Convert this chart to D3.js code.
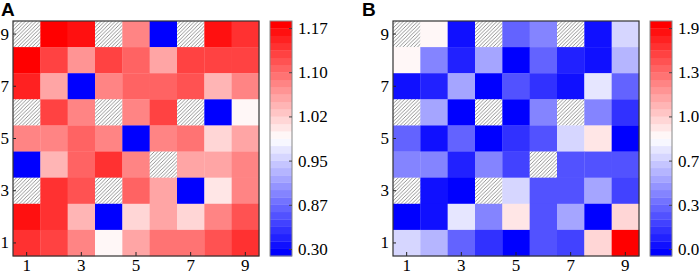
<!DOCTYPE html>
<html lang="en">
<head>
<meta charset="utf-8">
<title>Heatmaps A and B</title>
<script src="https://cdn.jsdelivr.net/npm/d3@7"></script>
<style>
  body { margin: 0; background: #fff; }
  svg { display: block; }
</style>
</head>
<body>
<script>
// grid labels (rows listed top to bottom: 9 .. 1)
var cols = [1, 2, 3, 4, 5, 6, 7, 8, 9];
var rows = [9, 8, 7, 6, 5, 4, 3, 2, 1];
var axisTicks = [1, 3, 5, 7, 9];

// colorbar tick labels
var ticksA = [0.30, 0.87, 0.95, 1.02, 1.10, 1.17];
var ticksB = [0.0, 0.3, 0.7, 1.0, 1.3, 1.9];

// null = hatched cell
var valuesA = [
  [null, 1.18, 1.16, null, 1.084, 0.30, null, 1.167, 1.144],
  [1.18, 1.13, 1.067, 1.13, 1.10, 1.051, 1.13, 1.13, 1.13],
  [1.151, 1.059, 0.30, 1.084, 1.108, 1.108, 1.115, 1.034, 1.075],
  [null, 1.13, 1.075, null, 1.084, 1.13, null, 0.30, 0.992],
  [1.075, 1.084, 1.10, 1.075, 0.30, 1.084, 1.092, 1.010, 1.051],
  [0.30, 1.042, 1.108, 1.137, 1.084, null, 1.051, 1.051, 1.084],
  [null, 1.137, 1.122, null, 1.10, 1.051, 0.30, 1.006, 1.084],
  [1.167, 1.137, 1.034, 0.30, 1.010, 1.051, 1.010, 1.075, 1.115],
  [1.144, 1.13, 1.075, 0.992, 1.051, 1.092, 1.092, 1.115, 1.137]
];

var valuesB = [
  [null, 0.88, 0.01, null, 0.265, 0.378, null, 0.01, 0.709],
  [0.895, 0.378, 0.077, 0.503, 0.0, 0.296, 0.077, 0.046, 0.628],
  [0.01, 0.077, 0.503, 0.0, 0.233, 0.14, 0.01, 0.755, 0.265],
  [null, 0.503, 0.0, null, 0.0, 0.42, null, 0.42, 0.14],
  [0.265, 0.01, 0.296, 0.0, 0.108, 0.233, 0.709, 0.943, 0.0],
  [0.42, 0.378, 0.077, 0.42, 0.171, null, 0.202, 0.202, 0.202],
  [null, 0.01, 0.0, null, 0.709, 0.202, 0.233, 0.544, 0.171],
  [0.0, 0.046, 0.771, 0.378, 0.943, 0.202, 0.544, 0.0, 0.99],
  [0.709, 0.628, 0.265, 0.14, 0.0, 0.202, 0.171, 0.973, 1.95]
];

var w = 699, h = 277;
var nLevels = 32;
var serif = "'Liberation Serif', 'Times New Roman', serif";

var svg = d3.select("body").append("svg")
  .attr("width", w)
  .attr("height", h);

// hatch pattern
var pat = svg.append("defs").append("pattern")
  .attr("id", "hatch")
  .attr("patternUnits", "userSpaceOnUse")
  .attr("width", 3.6)
  .attr("height", 3.6);
pat.append("rect").attr("width", 3.6).attr("height", 3.6).attr("fill", "#fff");
pat.append("path")
  .attr("d", "M-0.9,0.9 L0.9,-0.9 M0,3.6 L3.6,0 M2.7,4.5 L4.5,2.7")
  .attr("stroke", "#666")
  .attr("stroke-width", 0.7);

// t in [0,1] -> blue/white/red, quantized
function levelColor(t) {
  var lv = Math.max(0, Math.min(nLevels - 1, Math.floor(t * nLevels)));
  var tc = lv / (nLevels - 1);
  if (tc < 0.5) {
    var c = Math.round(255 * tc * 2);
    return d3.rgb(c, c, 255);
  }
  var g = Math.round(255 * (1 - tc) * 2);
  return d3.rgb(255, g, g);
}

function drawPanel(opt) {
  var g = svg.append("g");

  var x = d3.scaleBand().domain(cols).range([opt.left, opt.left + 246]);
  var y = d3.scaleBand().domain(rows).range([21, 256]);

  // value -> position on the bar (0..1), piecewise through tick places
  var tickPos = opt.ticks.map(function(d, i) { return 0.03 + i * 0.188; });
  var toT = d3.scaleLinear().domain(opt.ticks).range(tickPos);

  var cells = [];
  opt.values.forEach(function(r, i) {
    r.forEach(function(v, j) {
      cells.push({ row: rows[i], col: cols[j], v: v });
    });
  });

  g.selectAll("rect.cell")
    .data(cells)
    .enter()
    .append("rect")
    .attr("class", "cell")
    .attr("x", function(d) { return x(d.col); })
    .attr("y", function(d) { return y(d.row); })
    .attr("width", x.bandwidth() + 0.3)
    .attr("height", y.bandwidth() + 0.3)
    .attr("fill", function(d) {
      return d.v === null ? "url(#hatch)" : levelColor(toT(d.v));
    });

  // axes, ticks pointing inward
  var xAxis = g.append("g")
    .attr("transform", "translate(0,256)")
    .call(d3.axisBottom(x).tickValues(axisTicks).tickSizeInner(-4).tickSizeOuter(0).tickPadding(3));
  var yAxis = g.append("g")
    .attr("transform", "translate(" + opt.left + ",0)")
    .call(d3.axisLeft(y).tickValues(axisTicks).tickSizeInner(-3).tickSizeOuter(0).tickPadding(4));
  [xAxis, yAxis].forEach(function(a) {
    a.select(".domain").remove();
    a.selectAll("line").attr("stroke", "#222");
    a.selectAll("text")
      .attr("fill", "#000")
      .style("font-family", serif)
      .style("font-size", "17px");
  });

  g.append("rect")
    .attr("x", opt.left).attr("y", 21)
    .attr("width", 246).attr("height", 235)
    .attr("fill", "none")
    .attr("stroke", "#333")
    .attr("stroke-width", 1.2);

  // colorbar
  var barX = opt.left + 257, barW = 22;
  var tY = d3.scaleLinear().domain([0, 1]).range([256, 21]);
  var levels = d3.range(nLevels);
  g.selectAll("rect.lv")
    .data(levels)
    .enter()
    .append("rect")
    .attr("class", "lv")
    .attr("x", barX)
    .attr("y", function(d) { return tY((d + 1) / nLevels); })
    .attr("width", barW)
    .attr("height", function(d) { return tY(d / nLevels) - tY((d + 1) / nLevels) + 0.3; })
    .attr("fill", function(d) { return levelColor((d + 0.5) / nLevels); });

  g.append("rect")
    .attr("x", barX).attr("y", 21)
    .attr("width", barW).attr("height", 235)
    .attr("fill", "none")
    .attr("stroke", "#888")
    .attr("stroke-width", 1);

  var valY = d3.scaleLinear().domain(opt.ticks).range(tickPos.map(tY));
  var cAxis = g.append("g")
    .attr("transform", "translate(" + (barX + barW) + ",0)")
    .call(d3.axisRight(valY).tickValues(opt.ticks).tickFormat(d3.format(opt.fmt))
      .tickSizeInner(-3).tickSizeOuter(0).tickPadding(6));
  cAxis.select(".domain").remove();
  cAxis.selectAll("line").attr("stroke", "#444");
  cAxis.selectAll("text")
    .attr("fill", "#000")
    .style("font-family", serif)
    .style("font-size", "17px");

  // panel letter
  g.append("text")
    .attr("x", opt.labelX)
    .attr("y", 16)
    .text(opt.label)
    .style("font-family", "'Liberation Sans', Arial, sans-serif")
    .style("font-weight", "bold")
    .style("font-size", "19px");
}

drawPanel({ left: 13, values: valuesA, ticks: ticksA, fmt: ".2f", label: "A", labelX: 1 });
drawPanel({ left: 393, values: valuesB, ticks: ticksB, fmt: ".1f", label: "B", labelX: 362 });
</script>
</body>
</html>
